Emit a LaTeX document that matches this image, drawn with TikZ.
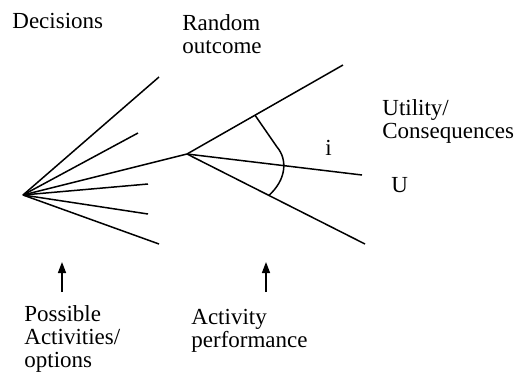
\documentclass[tikz,border=0pt]{standalone}
\usepackage{fontspec}
\setmainfont{Liberation Serif}
\usepackage{tikz}
\usetikzlibrary{arrows.meta, calc}

\begin{document}
\begin{tikzpicture}[
  x=0.5pt, y=-0.5pt,
  branch/.style={line width=0.75pt},
  lbl/.style={anchor=base west, inner sep=0pt, align=left,
              font=\fontsize{11.5}{11.5}\selectfont},
  pointer/.style={line width=0.75pt, -{Triangle[length=5.5pt, width=4pt]}},
]
  \useasboundingbox (0,0) rectangle (516,382);

  % decision node and its options
  \coordinate (dec) at (23,195);
  \coordinate (opt1) at (159,77);
  \coordinate (opt2) at (138,133);
  \coordinate (chance) at (187,154);
  \coordinate (opt4) at (148,184);
  \coordinate (opt5) at (148,214);
  \coordinate (opt6) at (159,244);
  \foreach \o in {opt1,opt2,chance,opt4,opt5,opt6}
    \draw[branch] (dec) -- (\o);

  % chance node and outcomes
  \coordinate (out1) at (343,65);
  \coordinate (out2) at (362,175);
  \coordinate (out3) at (365,244);
  \foreach \o in {out1,out2,out3}
    \draw[branch] (chance) -- (\o);

  % arc over the outcomes
  \coordinate (arcA) at ($(chance)!0.436!(out1)$);
  \coordinate (arcB) at ($(chance)!0.46!(out3)$);
  \draw[branch] (arcA) -- (277,147) .. controls (288,160) and (286,180) .. (arcB);

  % labels (base = last line)
  \node[lbl] (decisions) at (12,28) {Decisions};
  \node[lbl] (random) at (182,53) {Random\\outcome};
  \node[lbl] (utility) at (382,138) {Utility/\\Consequences};
  \node[lbl] (idx) at (325,155) {i};
  \node[lbl] (util) at (391,192) {U};
  \node[lbl] (possible) at (24,367) {Possible\\Activities/\\options};
  \node[lbl] (activity) at (191,347) {Activity\\performance};

  % arrows under the tree
  \coordinate (tailL) at (62,292);
  \coordinate (headL) at (62,262);
  \coordinate (tailR) at (266,292);
  \coordinate (headR) at (266,262);
  \draw[pointer] (tailL) -- (headL);
  \draw[pointer] (tailR) -- (headR);
\end{tikzpicture}
\end{document}
